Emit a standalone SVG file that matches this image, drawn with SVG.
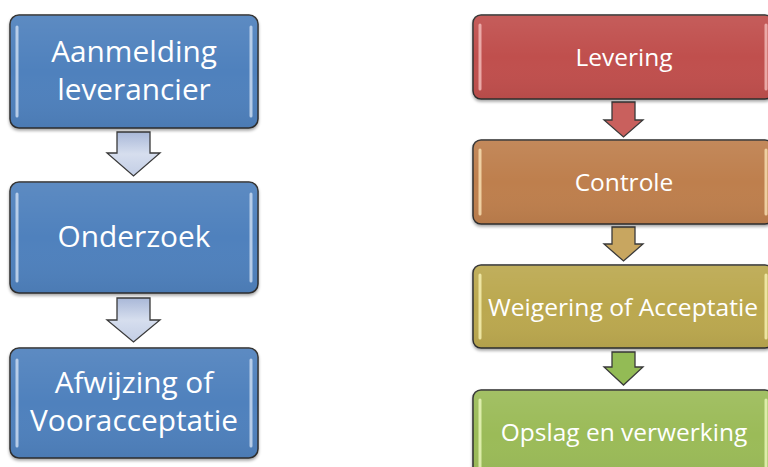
<svg xmlns="http://www.w3.org/2000/svg" width="768" height="467" viewBox="0 0 768 467">
<defs>
<filter id="sh" x="-10%" y="-10%" width="120%" height="130%">
<feDropShadow dx="0" dy="2" stdDeviation="1.5" flood-color="#000" flood-opacity="0.35"/>
</filter>
<linearGradient id="gl" x1="0" y1="0" x2="0" y2="1">
<stop offset="0" stop-color="#fff" stop-opacity="0.08"/>
<stop offset="0.5" stop-color="#fff" stop-opacity="0"/>
<stop offset="1" stop-color="#000" stop-opacity="0.05"/>
</linearGradient>
<linearGradient id="ablue" x1="0" y1="0" x2="0" y2="1">
<stop offset="0" stop-color="#A9B8D8"/>
<stop offset="0.5" stop-color="#D6DEEE"/>
<stop offset="1" stop-color="#C3CEE5"/>
</linearGradient>
</defs>
<style>
.box{stroke:#2f2f2f;stroke-width:1.5;filter:url(#sh)}
.hl{stroke-width:3;stroke-linecap:round;opacity:0.85}
.t{font-family:"Open Sans","Liberation Sans",sans-serif;fill:#fff;text-anchor:middle}
.tl{font-size:29.8px}
.tr{font-size:24.5px}
.arr{stroke:#3a3a3a;stroke-width:1.3;stroke-linejoin:miter}
</style>

<g id="connectors">
<path class="arr" fill="url(#ablue)" d="M117,132 H150 V153 H160 L133.5,176 L107,153 H117 Z"/>
<path class="arr" fill="url(#ablue)" d="M117,298 H150 V320 H160 L133.5,342 L107,320 H117 Z"/>
<path class="arr" fill="#C9605D" d="M612,102 H635 V120 H643 L623.5,137 L604,120 H612 Z"/>
<path class="arr" fill="#C8A660" d="M612,227 H635 V244 H643 L623.5,261 L604,244 H612 Z"/>
<path class="arr" fill="#93BB55" d="M612,352 H635 V367 H643 L623.5,385 L604,367 H612 Z"/>
</g>

<g id="n1">
<rect class="box" x="10" y="15" width="248" height="113" rx="9" fill="#4F81BD"/>
<rect x="10" y="15" width="248" height="113" rx="9" fill="url(#gl)"/>
<line class="hl" x1="17" y1="27" x2="17" y2="116" stroke="#C8DAF0"/>
<line class="hl" x1="251" y1="27" x2="251" y2="116" stroke="#C8DAF0"/>
<text class="t tl" x="134" y="62">Aanmelding</text>
<text class="t tl" x="134" y="100">leverancier</text>
</g>
<g id="n2">
<rect class="box" x="10" y="182" width="248" height="111" rx="9" fill="#4F81BD"/>
<rect x="10" y="182" width="248" height="111" rx="9" fill="url(#gl)"/>
<line class="hl" x1="17" y1="194" x2="17" y2="281" stroke="#C8DAF0"/>
<line class="hl" x1="251" y1="194" x2="251" y2="281" stroke="#C8DAF0"/>
<text class="t tl" x="134" y="247">Onderzoek</text>
</g>
<g id="n3">
<rect class="box" x="10" y="348" width="248" height="110" rx="9" fill="#4F81BD"/>
<rect x="10" y="348" width="248" height="110" rx="9" fill="url(#gl)"/>
<line class="hl" x1="17" y1="360" x2="17" y2="446" stroke="#C8DAF0"/>
<line class="hl" x1="251" y1="360" x2="251" y2="446" stroke="#C8DAF0"/>
<text class="t tl" x="134" y="393">Afwijzing of</text>
<text class="t tl" x="134" y="431">Vooracceptatie</text>
</g>

<g id="n4">
<rect class="box" x="473" y="15" width="300" height="84" rx="8" fill="#C0504D"/>
<rect x="473" y="15" width="300" height="84" rx="8" fill="url(#gl)"/>
<line class="hl" x1="480" y1="25" x2="480" y2="89" stroke="#F2B8B6"/>
<line class="hl" x1="766" y1="25" x2="766" y2="89" stroke="#F2B8B6"/>
<text class="t tr" x="624" y="66">Levering</text>
</g>
<g id="n5">
<rect class="box" x="473" y="140" width="300" height="84" rx="8" fill="#BE7F4D"/>
<rect x="473" y="140" width="300" height="84" rx="8" fill="url(#gl)"/>
<line class="hl" x1="480" y1="150" x2="480" y2="214" stroke="#F8DDB0"/>
<line class="hl" x1="766" y1="150" x2="766" y2="214" stroke="#F8DDB0"/>
<text class="t tr" x="624" y="191">Controle</text>
</g>
<g id="n6">
<rect class="box" x="473" y="265" width="300" height="83" rx="8" fill="#BBA850"/>
<rect x="473" y="265" width="300" height="83" rx="8" fill="url(#gl)"/>
<line class="hl" x1="480" y1="275" x2="480" y2="338" stroke="#F6F0B0"/>
<line class="hl" x1="766" y1="275" x2="766" y2="338" stroke="#F6F0B0"/>
<text class="t tr" x="623" y="316" textLength="270" lengthAdjust="spacingAndGlyphs">Weigering of Acceptatie</text>
</g>
<g id="n7">
<rect class="box" x="473" y="390" width="300" height="90" rx="8" fill="#9BBB59"/>
<rect x="473" y="390" width="300" height="90" rx="8" fill="url(#gl)"/>
<line class="hl" x1="480" y1="400" x2="480" y2="470" stroke="#E8F6B8"/>
<line class="hl" x1="766" y1="400" x2="766" y2="470" stroke="#E8F6B8"/>
<text class="t tr" x="624" y="441">Opslag en verwerking</text>
</g>
</svg>
